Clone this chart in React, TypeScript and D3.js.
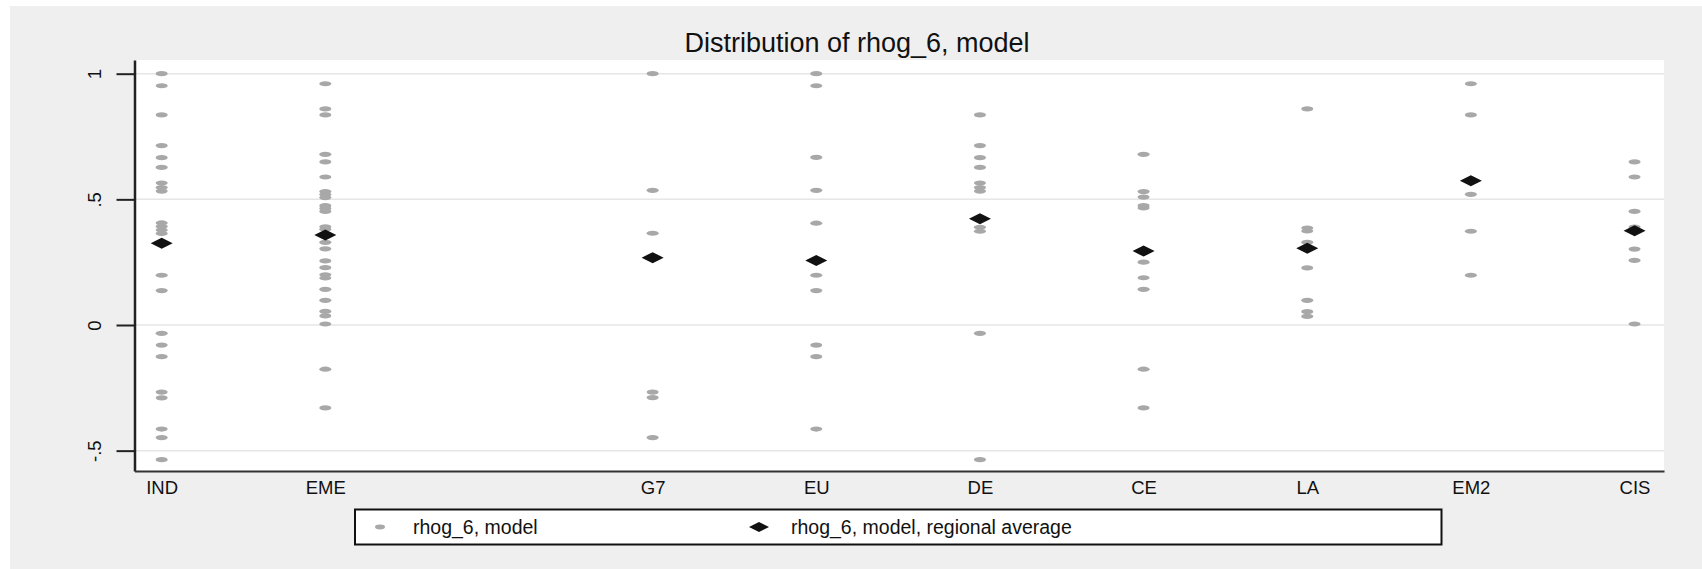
import React from "react";
import * as d3 from "d3";

// regions, in slot order (slot 2 is left empty in the original)
const categories = ["IND", "EME", "G7", "EU", "DE", "CE", "LA", "EM2", "CIS"];
const categorySlots = [0, 1, 3, 4, 5, 6, 7, 8, 9];

const indValues = [1.0, 0.952, 0.836, 0.714, 0.666, 0.627, 0.565, 0.547, 0.533, 0.406, 0.392, 0.378, 0.364, 0.198, 0.137, -0.033, -0.08, -0.126, -0.267, -0.29, -0.414, -0.448, -0.536];
const emeValues = [0.96, 0.86, 0.836, 0.679, 0.649, 0.589, 0.531, 0.519, 0.507, 0.475, 0.464, 0.452, 0.391, 0.381, 0.329, 0.303, 0.255, 0.228, 0.2, 0.187, 0.142, 0.098, 0.054, 0.036, 0.004, -0.176, -0.33];
const g7Values = [1.0, 0.536, 0.365, -0.267, -0.289, -0.448];
const euValues = [1.0, 0.952, 0.667, 0.536, 0.405, 0.198, 0.137, -0.08, -0.126, -0.414];
const deValues = [0.836, 0.714, 0.666, 0.627, 0.565, 0.547, 0.533, 0.389, 0.373, -0.033, -0.536];
const ceValues = [0.679, 0.531, 0.509, 0.475, 0.466, 0.25, 0.188, 0.142, -0.176, -0.33];
const laValues = [0.86, 0.386, 0.374, 0.329, 0.227, 0.098, 0.053, 0.034];
const em2Values = [0.96, 0.836, 0.52, 0.373, 0.198];
const cisValues = [0.649, 0.589, 0.452, 0.39, 0.302, 0.257, 0.004];

const regionalAverage = [0.325, 0.358, 0.268, 0.257, 0.423, 0.294, 0.305, 0.574, 0.375];

const yTicks = [-0.5, 0, 0.5, 1];

const seriesName = "rhog_6, model";
const averageName = "rhog_6, model, regional average";
const title = "Distribution of rhog_6, model";

const width = 1702;
const height = 569;
const plot = { left: 134.5, right: 1664, top: 60, bottom: 471 };
const font = "'Liberation Sans', Arial, Helvetica, sans-serif";

const diamond = (cx: number, cy: number, rx: number, ry: number) =>
  `M${cx - rx},${cy}L${cx},${cy - ry}L${cx + rx},${cy}L${cx},${cy + ry}Z`;

// Stata style: drop the leading zero, plain hyphen for minus
const stataNum = (d: number) =>
  d === 0 ? "0" : (d < 0 ? "-" : "") + String(Math.abs(d)).replace(/^0\./, ".");

const App = () => {
  const allValues = [indValues, emeValues, g7Values, euValues, deValues, ceValues, laValues, em2Values, cisValues];

  const xScale = d3.scaleLinear().domain([-0.166, 9.18]).range([plot.left, plot.right]);
  const yScale = d3.scaleLinear().domain([-0.581, 1.0545]).range([plot.bottom, plot.top]);

  return (
    <svg
      width={width}
      height={height}
      style={{ position: "absolute", left: 0, top: 0, fontFamily: font }}
    >
      <rect x={0} y={0} width={width} height={height} fill="#ffffff" />
      <rect x={10} y={6} width={width - 10} height={height - 6} fill="#efefef" />
      <rect
        x={plot.left}
        y={plot.top}
        width={plot.right - plot.left}
        height={plot.bottom - plot.top}
        fill="#ffffff"
      />

      <text x={857} y={51.5} textAnchor="middle" fontSize={27} fill="#111">
        {title}
      </text>

      <g className="grid">
        {yTicks.map((t) => (
          <line
            key={t}
            x1={plot.left}
            x2={plot.right}
            y1={yScale(t)}
            y2={yScale(t)}
            stroke="#e6e6e6"
            strokeWidth={1.5}
          />
        ))}
      </g>

      <g className="dots">
        {allValues.map((vals, i) =>
          vals.map((v, j) => (
            <ellipse
              key={`${i}-${j}`}
              cx={xScale(categorySlots[i])}
              cy={yScale(v)}
              rx={6}
              ry={2.6}
              fill="#a8a8a8"
            />
          ))
        )}
      </g>

      <g className="averages">
        {regionalAverage.map((v, i) => (
          <path key={i} d={diamond(xScale(categorySlots[i]), yScale(v), 11, 5.5)} fill="#111" />
        ))}
      </g>

      <g
        className="y-axis"
        transform={`translate(${plot.left},0)`}
        ref={(node) => {
          if (!node) return;
          const g = d3.select(node);
          g.call(
            d3.axisLeft(yScale).tickValues(yTicks).tickFormat((d) => stataNum(+d)).tickSize(18).tickSizeOuter(0)
          );
          g.select(".domain").attr("stroke", "#222").attr("stroke-width", 2.5);
          g.selectAll(".tick line").attr("stroke", "#222").attr("stroke-width", 2);
          g.selectAll(".tick text")
            .attr("transform", "rotate(-90)")
            .attr("x", 0)
            .attr("y", -33.5)
            .attr("dy", 0)
            .attr("text-anchor", "middle")
            .attr("font-size", 18.5)
            .attr("font-family", font)
            .attr("fill", "#111");
        }}
      />

      <g
        className="x-axis"
        transform={`translate(0,${plot.bottom})`}
        ref={(node) => {
          if (!node) return;
          const g = d3.select(node);
          g.call(
            d3
              .axisBottom(xScale)
              .tickValues(categorySlots)
              .tickFormat((d) => categories[categorySlots.indexOf(+d)])
              .tickSize(0)
              .tickSizeOuter(0)
          );
          g.select(".domain").attr("stroke", "#333").attr("stroke-width", 2);
          g.selectAll(".tick text")
            .attr("y", 23)
            .attr("dy", 0)
            .attr("font-size", 18.5)
            .attr("font-family", font)
            .attr("fill", "#111");
        }}
      />

      <g className="legend">
        <rect x={355} y={509.5} width={1086.5} height={35} fill="#ffffff" stroke="#111" strokeWidth={2} />
        <ellipse cx={380} cy={527} rx={5} ry={2.4} fill="#a8a8a8" />
        <text x={413} y={533.5} fontSize={19.5} fill="#111">
          {seriesName}
        </text>
        <path d={diamond(759, 527, 10, 5)} fill="#111" />
        <text x={791} y={533.5} fontSize={19.5} fill="#111">
          {averageName}
        </text>
      </g>
    </svg>
  );
};

export default App;
